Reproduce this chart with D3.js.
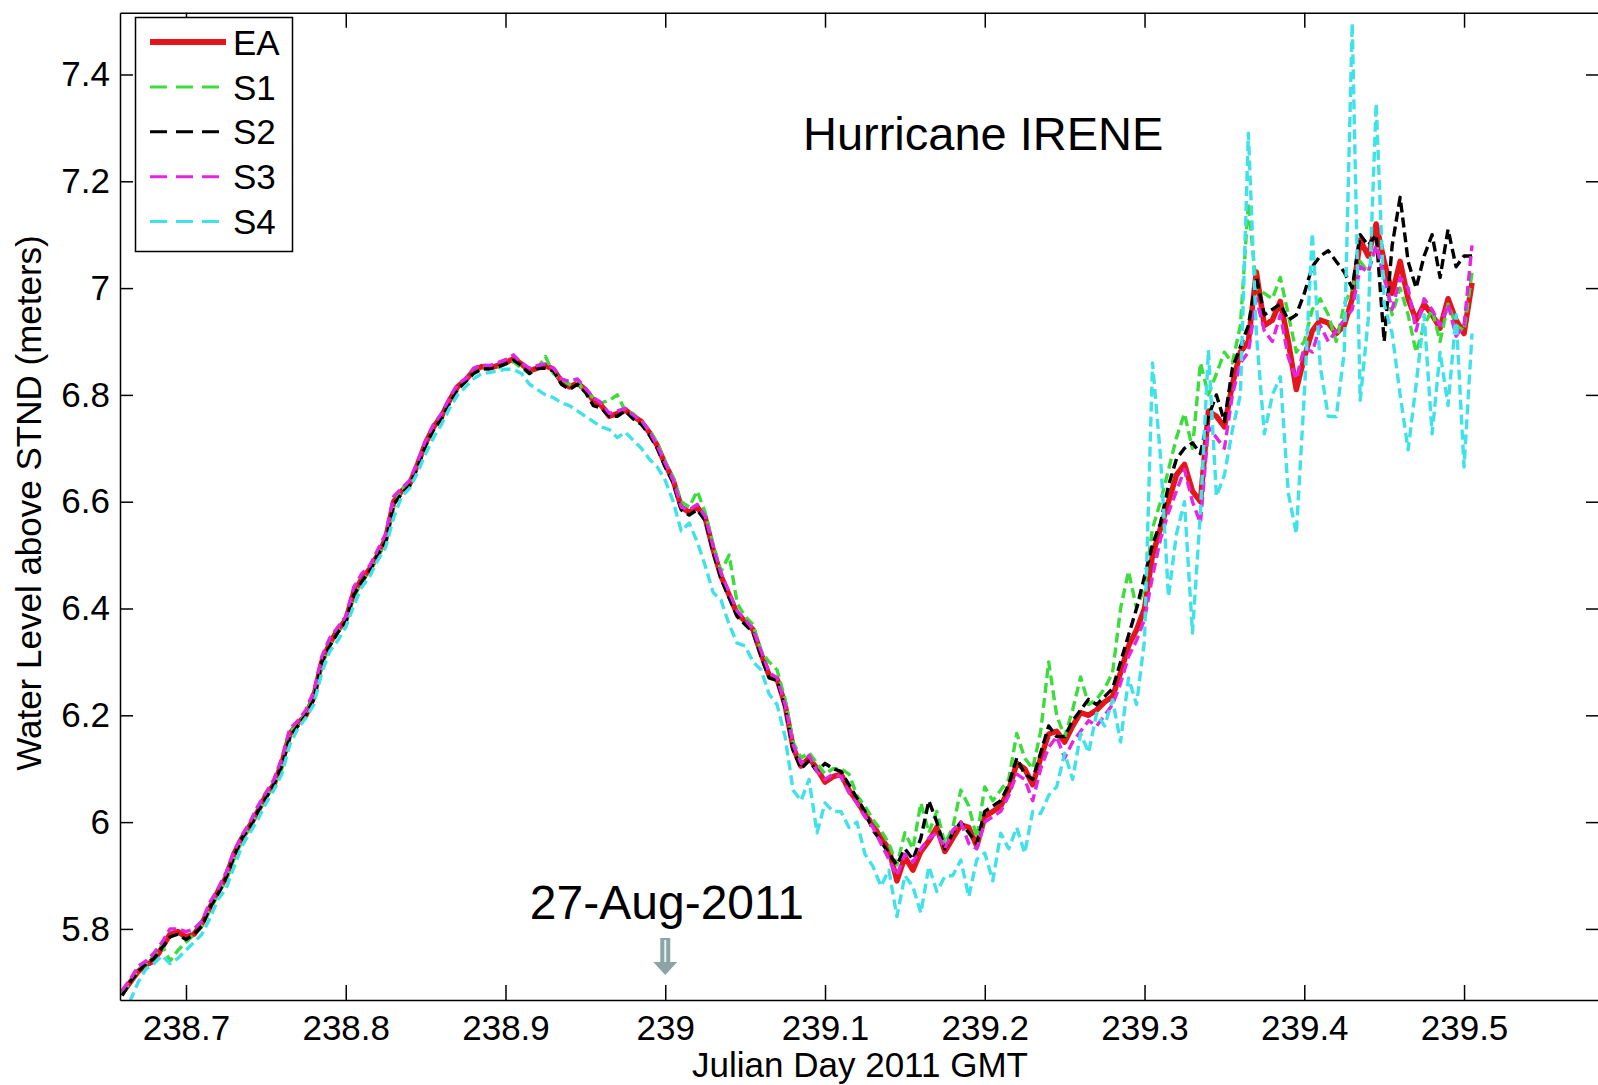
<!DOCTYPE html>
<html>
<head>
<meta charset="utf-8">
<script src="https://cdn.jsdelivr.net/npm/d3@7"></script>
<style>
  body { margin: 0; background: #fff; }
  svg text { font-family: "Liberation Sans", Arial, sans-serif; fill: #000; }
</style>
</head>
<body>
<svg id="chart" width="1598" height="1085"></svg>
<script>
// sample times (Julian day 2011 GMT)
const julianDay = [
  238.660,238.665,238.670,238.675,238.680,238.685,238.690,238.695,238.700,238.705,
  238.710,238.715,238.720,238.725,238.730,238.735,238.740,238.745,238.750,238.755,
  238.760,238.765,238.770,238.775,238.780,238.785,238.790,238.795,238.800,238.805,
  238.810,238.815,238.820,238.825,238.830,238.835,238.840,238.845,238.850,238.855,
  238.860,238.865,238.870,238.875,238.880,238.885,238.890,238.895,238.900,238.905,
  238.910,238.915,238.920,238.925,238.930,238.935,238.940,238.945,238.950,238.955,
  238.960,238.965,238.970,238.975,238.980,238.985,238.990,238.995,239.000,239.005,
  239.010,239.015,239.020,239.025,239.030,239.035,239.040,239.045,239.050,239.055,
  239.060,239.065,239.070,239.075,239.080,239.085,239.090,239.095,239.100,239.105,
  239.110,239.115,239.120,239.125,239.130,239.135,239.140,239.145,239.150,239.155,
  239.160,239.165,239.170,239.175,239.180,239.185,239.190,239.195,239.200,239.205,
  239.210,239.215,239.220,239.225,239.230,239.235,239.240,239.245,239.250,239.255,
  239.260,239.265,239.270,239.275,239.280,239.285,239.290,239.295,239.300,239.305,
  239.310,239.315,239.320,239.325,239.330,239.335,239.340,239.345,239.350,239.355,
  239.360,239.365,239.370,239.375,239.380,239.385,239.390,239.395,239.400,239.405,
  239.410,239.415,239.420,239.425,239.430,239.435,239.440,239.445,239.450,239.455,
  239.460,239.465,239.470,239.475,239.480,239.485,239.490,239.495,239.500,239.505
];

const levelEA = [
  5.68,5.70,5.72,5.733,5.74,5.765,5.79,5.795,5.785,5.79,
  5.81,5.84,5.87,5.896,5.94,5.97,5.993,6.02,6.05,6.07,
  6.11,6.165,6.185,6.20,6.235,6.30,6.335,6.36,6.378,6.43,
  6.455,6.474,6.50,6.53,6.60,6.62,6.633,6.67,6.71,6.74,
  6.76,6.79,6.815,6.828,6.845,6.853,6.85,6.855,6.86,6.868,
  6.858,6.845,6.85,6.855,6.848,6.825,6.815,6.822,6.81,6.79,
  6.78,6.76,6.765,6.772,6.76,6.75,6.73,6.705,6.67,6.64,
  6.59,6.58,6.59,6.57,6.51,6.46,6.425,6.39,6.376,6.36,
  6.315,6.275,6.268,6.22,6.14,6.105,6.12,6.10,6.075,6.085,
  6.09,6.06,6.04,6.015,5.995,5.97,5.95,5.89,5.935,5.91,
  5.945,5.965,5.99,5.945,5.97,5.995,5.99,5.955,6.01,6.02,
  6.03,6.06,6.11,6.10,6.07,6.12,6.165,6.17,6.15,6.18,
  6.205,6.20,6.21,6.225,6.235,6.28,6.33,6.36,6.40,6.50,
  6.55,6.60,6.65,6.67,6.62,6.60,6.77,6.76,6.74,6.82,
  6.88,6.90,7.03,6.93,6.94,6.975,6.90,6.81,6.87,6.92,
  6.94,6.935,6.915,6.93,6.98,7.09,7.06,7.12,7.05,6.99,
  7.05,6.98,6.94,6.97,6.95,6.925,6.98,6.94,6.915,7.01
];

const levelS1 = [
  5.68,5.70,5.725,5.735,5.75,5.77,5.74,5.76,5.775,5.79,
  5.805,5.835,5.865,5.89,5.93,5.965,5.99,6.02,6.045,6.07,
  6.10,6.17,6.18,6.205,6.235,6.295,6.33,6.355,6.375,6.42,
  6.45,6.47,6.495,6.525,6.59,6.625,6.63,6.665,6.705,6.735,
  6.755,6.785,6.81,6.825,6.84,6.85,6.852,6.85,6.858,6.862,
  6.85,6.84,6.85,6.872,6.84,6.83,6.82,6.825,6.805,6.795,
  6.785,6.79,6.80,6.77,6.765,6.75,6.735,6.71,6.675,6.645,
  6.60,6.59,6.62,6.58,6.52,6.47,6.50,6.41,6.385,6.37,
  6.32,6.30,6.285,6.23,6.15,6.12,6.13,6.11,6.09,6.10,
  6.10,6.09,6.05,6.03,6.005,5.985,5.96,5.92,5.98,5.95,
  6.036,5.98,6.02,5.96,5.99,6.06,6.03,5.97,6.066,6.04,
  6.06,6.08,6.166,6.12,6.10,6.17,6.30,6.20,6.16,6.21,
  6.272,6.22,6.23,6.25,6.28,6.40,6.47,6.40,6.44,6.55,
  6.60,6.66,6.72,6.765,6.70,6.86,6.80,6.84,6.88,6.86,
  6.93,7.16,7.00,6.99,6.98,7.02,6.95,6.88,6.90,6.96,
  6.98,6.95,6.90,6.97,7.00,7.05,7.03,7.08,7.02,6.95,
  7.00,6.95,6.88,6.93,6.96,6.90,6.97,6.93,6.92,7.03
];

const levelS2 = [
  5.675,5.70,5.72,5.735,5.745,5.765,5.785,5.79,5.78,5.79,
  5.805,5.84,5.865,5.895,5.935,5.97,5.99,6.02,6.045,6.07,
  6.105,6.16,6.18,6.20,6.23,6.30,6.33,6.355,6.375,6.425,
  6.45,6.47,6.50,6.525,6.595,6.615,6.63,6.665,6.705,6.735,
  6.755,6.785,6.81,6.825,6.84,6.848,6.85,6.852,6.858,6.865,
  6.855,6.84,6.85,6.85,6.845,6.82,6.81,6.82,6.805,6.78,
  6.775,6.76,6.76,6.77,6.755,6.745,6.725,6.70,6.665,6.635,
  6.585,6.575,6.585,6.565,6.505,6.455,6.42,6.385,6.37,6.355,
  6.31,6.27,6.265,6.215,6.135,6.10,6.115,6.095,6.11,6.10,
  6.095,6.07,6.045,6.02,5.985,5.965,5.94,5.92,5.95,5.93,
  5.97,6.04,6.00,5.95,5.98,6.00,5.98,5.96,6.02,6.03,
  6.04,6.07,6.12,6.09,6.08,6.13,6.18,6.16,6.16,6.19,
  6.21,6.23,6.22,6.235,6.25,6.30,6.35,6.40,6.46,6.52,
  6.56,6.63,6.68,6.70,6.71,6.69,6.76,6.80,6.75,6.85,
  6.89,6.93,7.02,6.95,6.96,6.97,6.94,6.95,6.99,7.04,
  7.06,7.07,7.05,7.03,7.00,7.10,7.08,7.10,6.90,7.08,
  7.17,7.05,7.00,7.06,7.10,7.02,7.11,7.04,7.06,7.06
];

const levelS3 = [
  5.685,5.705,5.73,5.74,5.755,5.775,5.80,5.80,5.795,5.80,
  5.815,5.85,5.875,5.905,5.945,5.975,6.00,6.03,6.055,6.08,
  6.12,6.175,6.19,6.21,6.245,6.31,6.345,6.365,6.385,6.44,
  6.465,6.48,6.51,6.54,6.61,6.625,6.64,6.675,6.715,6.745,
  6.765,6.795,6.82,6.83,6.85,6.856,6.855,6.86,6.866,6.875,
  6.86,6.85,6.855,6.858,6.85,6.83,6.825,6.83,6.812,6.795,
  6.785,6.765,6.77,6.775,6.762,6.752,6.732,6.705,6.672,6.64,
  6.59,6.585,6.595,6.572,6.515,6.465,6.43,6.395,6.38,6.36,
  6.32,6.28,6.27,6.22,6.145,6.11,6.125,6.095,6.08,6.09,
  6.085,6.055,6.035,6.01,5.99,5.96,5.93,5.90,5.94,5.925,
  5.95,5.97,5.98,5.95,5.985,6.00,5.96,5.95,6.00,6.01,
  6.02,6.05,6.09,6.08,6.04,6.10,6.14,6.16,6.12,6.15,
  6.17,6.19,6.18,6.20,6.22,6.26,6.31,6.34,6.38,6.46,
  6.53,6.58,6.62,6.66,6.60,6.56,6.74,6.72,6.70,6.80,
  6.86,6.88,6.98,6.92,6.90,6.95,6.87,6.83,6.89,6.88,
  6.93,6.90,6.92,6.94,6.96,7.04,7.03,7.08,7.02,6.96,
  7.02,7.00,6.92,6.98,6.96,6.93,6.97,6.91,6.93,7.08
];

const levelS4 = [
  5.64,5.665,5.70,5.725,5.735,5.75,5.735,5.745,5.76,5.775,
  5.79,5.82,5.855,5.875,5.915,5.955,5.98,6.005,6.035,6.06,
  6.09,6.145,6.175,6.195,6.22,6.28,6.32,6.34,6.365,6.405,
  6.44,6.46,6.49,6.515,6.57,6.61,6.625,6.655,6.69,6.72,
  6.745,6.775,6.80,6.815,6.83,6.84,6.842,6.845,6.848,6.848,
  6.84,6.82,6.81,6.80,6.795,6.785,6.78,6.77,6.76,6.75,
  6.74,6.735,6.72,6.73,6.715,6.70,6.68,6.665,6.64,6.60,
  6.545,6.56,6.525,6.48,6.43,6.415,6.37,6.335,6.33,6.30,
  6.285,6.24,6.22,6.16,6.06,6.04,6.08,5.98,6.036,6.02,
  6.02,5.99,6.00,5.94,5.917,5.88,5.91,5.823,5.90,5.879,
  5.83,5.917,5.87,5.898,5.90,5.929,5.86,5.93,5.942,5.89,
  5.979,5.95,5.99,5.942,6.02,6.016,6.05,6.066,6.129,6.08,
  6.166,6.13,6.204,6.18,6.229,6.15,6.27,6.22,6.341,6.86,
  6.684,6.422,6.54,6.60,6.354,6.58,6.884,6.61,6.65,6.735,
  6.80,7.29,6.915,6.727,6.80,6.834,6.616,6.54,6.80,7.103,
  6.853,6.76,6.759,6.88,7.496,6.79,6.94,7.346,6.97,6.915,
  6.80,6.697,6.82,6.95,6.727,6.88,6.78,6.95,6.665,6.915
];

const seriesNames = ["EA", "S1", "S2", "S3", "S4"];
const seriesValues = [levelEA, levelS1, levelS2, levelS3, levelS4];
const seriesColors = ["#e3161c", "#3cdc3c", "#000000", "#e426e4", "#40e2ea"];

const xTicks = [238.7, 238.8, 238.9, 239.0, 239.1, 239.2, 239.3, 239.4, 239.5];
const xTickLabels = ["238.7", "238.8", "238.9", "239", "239.1", "239.2", "239.3", "239.4", "239.5"];
const yTicks = [5.8, 6.0, 6.2, 6.4, 6.6, 6.8, 7.0, 7.2, 7.4];
const yTickLabels = ["5.8", "6", "6.2", "6.4", "6.6", "6.8", "7", "7.2", "7.4"];

const FONT = "'Liberation Sans', Arial, sans-serif";

function renderChart() {
  const svg = d3.select("#chart");
  svg.selectAll("*").remove();
  const width = Number(svg.attr("width"));
  const height = Number(svg.attr("height"));
  // right edge of the axes sits just past the picture edge
  const margin = {top: 12.7, right: -2, bottom: 85, left: 120};
  const innerWidth = width - margin.left - margin.right;
  const innerHeight = height - margin.top - margin.bottom;

  svg.append("rect").attr("width", width).attr("height", height).attr("fill", "#fff");

  const x = d3.scaleLinear().domain([238.6587, 239.5851]).range([0, innerWidth]);
  const y = d3.scaleLinear().domain([5.6669, 7.5157]).range([innerHeight, 0]);

  const chartGroup = svg.append("g")
    .attr("transform", `translate(${margin.left}, ${margin.top})`);

  chartGroup.append("clipPath").attr("id", "plotclip")
    .append("rect").attr("width", innerWidth).attr("height", innerHeight);

  // series lines
  const line = d3.line()
    .x((d, i) => x(julianDay[i]))
    .y(d => y(d));

  chartGroup.append("g")
    .attr("clip-path", "url(#plotclip)")
    .selectAll("path")
    .data(seriesValues)
    .enter()
    .append("path")
      .attr("d", d => line(d))
      .attr("fill", "none")
      .attr("stroke", (d, i) => seriesColors[i])
      .attr("stroke-width", (d, i) => i == 0 ? 5.5 : 3.4)
      .attr("stroke-dasharray", (d, i) => i == 0 ? null : "10,5")
      .attr("stroke-linejoin", "round");

  // axes (box style, ticks inward)
  const styleAxis = g => {
    g.attr("font-size", 35).attr("font-family", FONT);
    g.selectAll("path, line").attr("stroke", "#000").attr("stroke-width", 1.5);
    g.selectAll("text").attr("fill", "#000");
  };

  chartGroup.append("g")
    .attr("transform", `translate(0,${innerHeight})`)
    .call(d3.axisBottom(x).tickValues(xTicks).tickFormat((d, i) => xTickLabels[i])
      .tickSizeInner(-15).tickSizeOuter(0).tickPadding(15))
    .call(styleAxis);

  chartGroup.append("g")
    .call(d3.axisTop(x).tickValues(xTicks).tickFormat("")
      .tickSizeInner(-15).tickSizeOuter(0))
    .call(styleAxis);

  chartGroup.append("g")
    .call(d3.axisLeft(y).tickValues(yTicks).tickFormat((d, i) => yTickLabels[i])
      .tickSizeInner(-13).tickSizeOuter(0).tickPadding(10))
    .call(styleAxis);

  chartGroup.append("g")
    .attr("transform", `translate(${innerWidth},0)`)
    .call(d3.axisRight(y).tickValues(yTicks).tickFormat("")
      .tickSizeInner(-14).tickSizeOuter(0))
    .call(styleAxis);

  // axis labels
  svg.append("text")
    .attr("x", margin.left + innerWidth / 2)
    .attr("y", 1077)
    .attr("text-anchor", "middle")
    .attr("font-size", 35)
    .text("Julian Day 2011 GMT");

  svg.append("text")
    .attr("transform", "translate(41, 503) rotate(-90)")
    .attr("text-anchor", "middle")
    .attr("font-size", 35)
    .text("Water Level above STND (meters)");

  // annotations
  chartGroup.append("text")
    .attr("x", x(239.199))
    .attr("y", y(7.259))
    .attr("text-anchor", "middle")
    .attr("font-size", 47)
    .text("Hurricane IRENE");

  chartGroup.append("text")
    .attr("x", x(239.001))
    .attr("y", y(5.8185))
    .attr("text-anchor", "middle")
    .attr("font-size", 48)
    .text("27-Aug-2011");

  const ax = x(239.0);
  const ay = y(5.783);
  chartGroup.append("path")
    .attr("d", `M${ax - 5},${ay} L${ax + 5},${ay} L${ax + 5},${ay + 24} L${ax + 12},${ay + 24}
                L${ax},${ay + 37} L${ax - 12},${ay + 24} L${ax - 5},${ay + 24} Z`)
    .attr("fill", "#8ba5a7");
  chartGroup.append("line")
    .attr("x1", ax).attr("x2", ax)
    .attr("y1", ay + 2).attr("y2", ay + 24)
    .attr("stroke", "#e8f0f0").attr("stroke-width", 2);

  // legend
  const legend = svg.append("g");
  legend.append("rect")
    .attr("x", 135.5).attr("y", 17.5)
    .attr("width", 157).attr("height", 234)
    .attr("fill", "#fff").attr("stroke", "#000").attr("stroke-width", 1.5);

  const item = legend.selectAll("g.item")
    .data(seriesNames)
    .enter()
    .append("g")
      .attr("class", "item")
      .attr("transform", (d, i) => `translate(0, ${42 + i * 44.9})`);

  item.append("line")
    .attr("x1", 150).attr("x2", 226)
    .attr("stroke", (d, i) => seriesColors[i])
    .attr("stroke-width", (d, i) => i == 0 ? 6 : 3)
    .attr("stroke-dasharray", (d, i) => i == 0 ? null : "17,9");

  item.append("text")
    .attr("x", 233)
    .attr("dy", "0.36em")
    .attr("font-size", 35)
    .text(d => d);
}
renderChart();
</script>
</body>
</html>
